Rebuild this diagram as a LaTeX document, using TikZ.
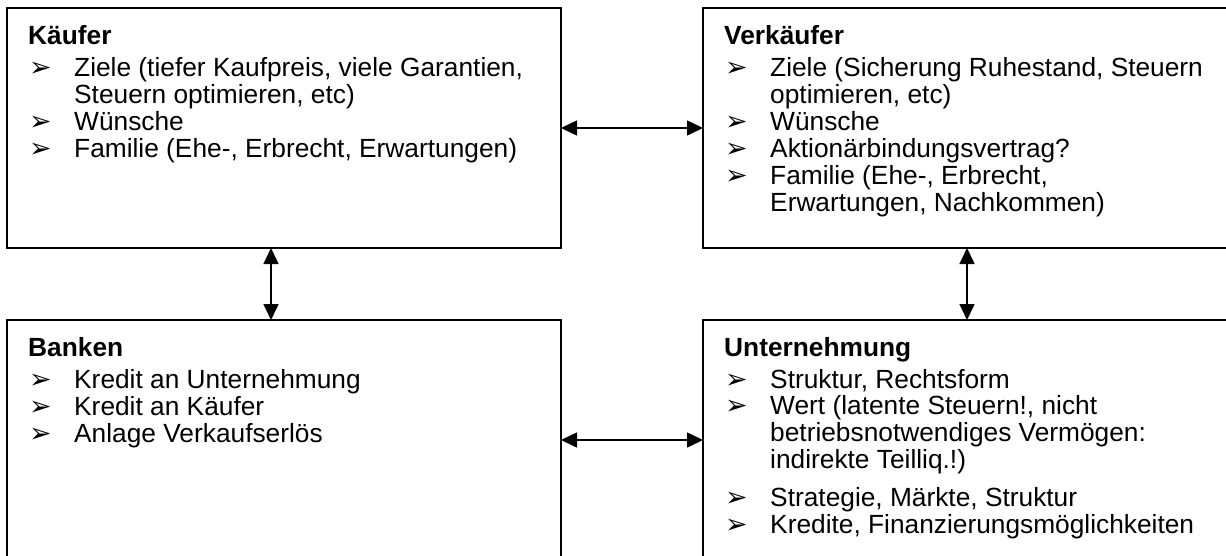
\documentclass[tikz,border=0pt]{standalone}
\usepackage{fontspec}
\setmainfont{Liberation Sans}
\newfontfamily\bulfont{DejaVu Sans}
\usetikzlibrary{arrows.meta,calc}
\tikzset{
  box/.style={draw, line width=1.8pt, inner sep=0pt, outer sep=0pt,
    minimum width=554pt, minimum height=240pt, anchor=north west},
  ttl/.style={anchor=base west, inner sep=0pt, font=\fontsize{26.3pt}{27pt}\selectfont\bfseries},
  txt/.style={anchor=base west, inner sep=0pt, font=\fontsize{26.3pt}{27pt}\selectfont},
  bul/.style={anchor=base west, inner sep=0pt, font=\fontsize{27pt}{27pt}\selectfont\bulfont},
  arr/.style={line width=1.6pt, {Triangle[length=16pt,width=15pt]}-{Triangle[length=16pt,width=15pt]}}
}
\begin{document}
\begin{tikzpicture}[x=1pt,y=-1pt]
\useasboundingbox (0,0) rectangle (1226,555);
\clip (0,0) rectangle (1226,555);
% boxes
\node[box] (kf) at (7,8) {};
\node[box] (vk) at (703,8) {};
\node[box] (bk) at (7,320) {};
\node[box] (un) at (703,320) {};
% Käufer
\node[ttl] (kft) at ($(kf.north west)+(21,36)$) {Käufer};
\node[bul] (kfb1) at ($(kf.north west)+(22,68)$) {➢};
\node[txt] (kf1) at ($(kf.north west)+(67,68)$) {Ziele (tiefer Kaufpreis, viele Garantien,};
\node[txt] (kf1b) at ($(kf.north west)+(67,95)$) {Steuern optimieren, etc)};
\node[bul] (kfb2) at ($(kf.north west)+(22,122)$) {➢};
\node[txt] (kf2) at ($(kf.north west)+(67,122)$) {Wünsche};
\node[bul] (kfb3) at ($(kf.north west)+(22,149)$) {➢};
\node[txt] (kf3) at ($(kf.north west)+(67,149)$) {Familie (Ehe-, Erbrecht, Erwartungen)};
% Verkäufer
\node[ttl] (vkt) at ($(vk.north west)+(21,36)$) {Verkäufer};
\node[bul] (vkb1) at ($(vk.north west)+(22,68)$) {➢};
\node[txt] (vk1) at ($(vk.north west)+(67,68)$) {Ziele (Sicherung Ruhestand, Steuern};
\node[txt] (vk1b) at ($(vk.north west)+(67,95)$) {optimieren, etc)};
\node[bul] (vkb2) at ($(vk.north west)+(22,122)$) {➢};
\node[txt] (vk2) at ($(vk.north west)+(67,122)$) {Wünsche};
\node[bul] (vkb3) at ($(vk.north west)+(22,149)$) {➢};
\node[txt] (vk3) at ($(vk.north west)+(67,149)$) {Aktionärbindungsvertrag?};
\node[bul] (vkb4) at ($(vk.north west)+(22,176)$) {➢};
\node[txt] (vk4) at ($(vk.north west)+(67,176)$) {Familie (Ehe-, Erbrecht,};
\node[txt] (vk4b) at ($(vk.north west)+(67,203)$) {Erwartungen, Nachkommen)};
% Banken
\node[ttl] (bkt) at ($(bk.north west)+(21,36)$) {Banken};
\node[bul] (bkb1) at ($(bk.north west)+(22,68)$) {➢};
\node[txt] (bk1) at ($(bk.north west)+(67,68)$) {Kredit an Unternehmung};
\node[bul] (bkb2) at ($(bk.north west)+(22,95)$) {➢};
\node[txt] (bk2) at ($(bk.north west)+(67,95)$) {Kredit an Käufer};
\node[bul] (bkb3) at ($(bk.north west)+(22,122)$) {➢};
\node[txt] (bk3) at ($(bk.north west)+(67,122)$) {Anlage Verkaufserlös};
% Unternehmung
\node[ttl] (unt) at ($(un.north west)+(21,36)$) {Unternehmung};
\node[bul] (unb1) at ($(un.north west)+(22,68)$) {➢};
\node[txt] (un1) at ($(un.north west)+(67,68)$) {Struktur, Rechtsform};
\node[bul] (unb2) at ($(un.north west)+(22,94)$) {➢};
\node[txt] (un2) at ($(un.north west)+(67,94)$) {Wert (latente Steuern!, nicht};
\node[txt] (un2b) at ($(un.north west)+(67,121)$) {betriebsnotwendiges Vermögen:};
\node[txt] (un2c) at ($(un.north west)+(67,148)$) {indirekte Teilliq.!)};
\node[bul] (unb3) at ($(un.north west)+(22,186)$) {➢};
\node[txt] (un3) at ($(un.north west)+(67,186)$) {Strategie, Märkte, Struktur};
\node[bul] (unb4) at ($(un.north west)+(22,213)$) {➢};
\node[txt] (un4) at ($(un.north west)+(67,213)$) {Kredite, Finanzierungsmöglichkeiten};
% connectors
\draw[arr] (kf.east) -- (vk.west);
\draw[arr] (bk.east) -- (un.west);
\draw[arr] ($(kf.south west)+(264,0)$) -- ($(bk.north west)+(264,0)$);
\draw[arr] ($(vk.south west)+(264,0)$) -- ($(un.north west)+(264,0)$);
\end{tikzpicture}
\end{document}
